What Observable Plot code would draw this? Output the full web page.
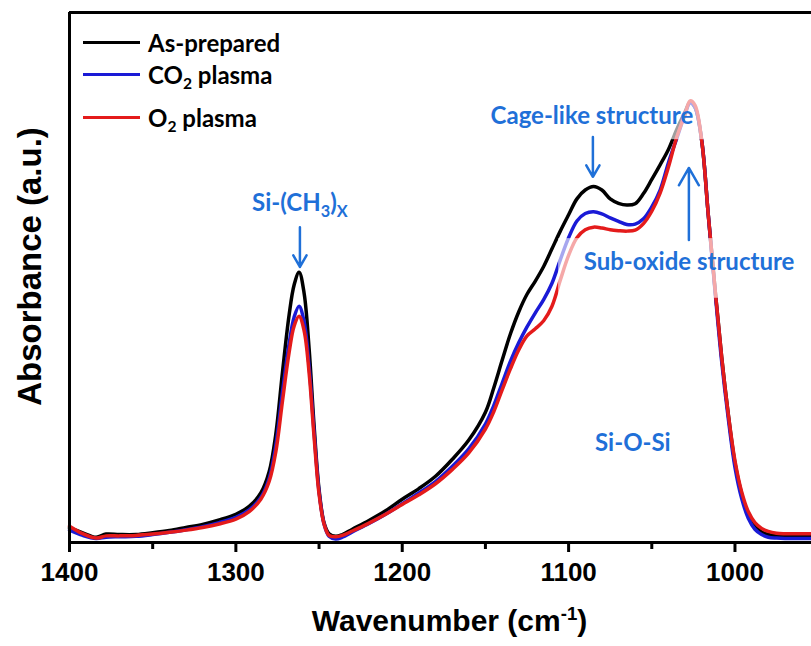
<!DOCTYPE html>
<html><head><meta charset="utf-8">
<script src="https://cdn.jsdelivr.net/npm/d3@7"></script>
<script src="https://cdn.jsdelivr.net/npm/@observablehq/plot@0.6"></script>
<style>
body{margin:0;background:#fff;}
#wrap{position:relative;width:811px;height:646px;}
#legend{position:absolute;left:83px;top:0;font-family:Lato,"Open Sans",sans-serif;font-weight:700;font-size:24px;color:#000;}
.row{position:absolute;left:0;height:30px;display:flex;align-items:center;white-space:nowrap;}
.sw{width:57px;height:3px;margin-right:8px;}
.row sub{font-size:65%;vertical-align:-0.3em;line-height:0;}
</style></head><body><div id="wrap"><div id="legend"></div></div>
<script>
// ---- data ----
const wavenumber = [1400,1392,1384,1378,1370,1360,1350,1340,1330,1320,1310,1300,1292,1285,1280,1276,1272,1268,1265,1262,1259,1256,1253,1250,1247,1244,1240,1236,1230,1220,1210,1200,1190,1180,1170,1160,1150,1145,1140,1135,1130,1125,1120,1115,1110,1105,1100,1095,1090,1085,1080,1075,1070,1065,1060,1055,1050,1045,1040,1035,1030,1027,1024,1020,1016,1012,1008,1004,1000,996,992,988,984,980,975,970,960,954];
const asPrepared = [.033,.022,.012,.019,.018, .018,.022,.027,.034,.041, .051,.064,.082,.112,.16, .245,.385,.515,.583,.612, .565,.44,.265,.12,.045, .02,.014,.018,.03,.05, .072,.098,.122,.15,.188, .232,.295,.35,.412,.472, .522,.562,.592,.625,.665, .705,.742,.778,.798,.806, .798,.778,.768,.764,.767, .79,.822,.855,.89,.935, .975,.997,.985,.91,.74, .575,.42,.29,.18,.11, .062,.037,.024,.018,.015, .014,.014,.014];
const co2Plasma = [.028,.016,.009,.012,.013, .014,.018,.023,.029,.036, .045,.057,.074,.102,.145, .22,.34,.45,.51,.535, .5,.4,.25,.115,.042, .014,.008,.012,.024,.043, .064,.088,.112,.138,.172, .212,.268,.31,.36,.41, .452,.488,.52,.55,.587, .64,.69,.728,.745,.749, .744,.735,.727,.72,.721, .733,.76,.798,.86,.915, .97,.995,.985,.91,.74, .57,.41,.28,.17,.1, .055,.03,.018,.012,.01, .009,.009,.009];
const o2Plasma = [.037,.02,.01,.015,.015, .016,.019,.023,.028,.034, .042,.053,.07,.098,.138, .205,.32,.43,.49,.512, .48,.385,.24,.11,.042, .016,.013,.016,.026,.044, .064,.086,.108,.133,.165, .203,.257,.296,.345,.393, .436,.468,.484,.502,.535, .594,.65,.69,.708,.714, .712,.708,.706,.705,.707, .722,.75,.791,.85,.918, .97,1.0,.99,.91,.74, .575,.42,.29,.185,.115, .07,.045,.032,.025,.021, .02,.02,.02];
const seriesNames = ["As-prepared","CO_{2} plasma","O_{2} plasma"];
const seriesColors = ["#000000","#1a1ad6","#e41b1b"];
const majorTicks = [1400,1300,1200,1100,1000];
const minorTicks = [1350,1250,1150,1050];
const xTitle = "Wavenumber (cm^{-1})";
const yTitle = "Absorbance (a.u.)";
// annotations
const annoText = ["Si-(CH_{3})_{X}","Cage-like structure","Sub-oxide structure","Si-O-Si"];
const annoX = [1261.5,1086,1027.6,1061.4];
const annoY = [0.769,0.966,0.635,0.224];
const arrowX = [1261.5,1085.4,1027.7];
const arrowFrom = [0.714,0.918,0.685];
const arrowTo = [0.624,0.828,0.848];
const boxX1 = [1150,1106], boxX2 = [1016,962], boxY1 = [0.912,0.553], boxY2 = [1.01,0.688];

const annoBlue = "#1f70d8";
const seriesValues = [asPrepared, co2Plasma, o2Plasma];
const rows = [];
seriesNames.forEach((s,k)=>wavenumber.forEach((w,i)=>rows.push({series:s, wn:w, a:seriesValues[k][i]})));
const annos = annoText.map((t,i)=>({t, x:annoX[i], y:annoY[i]}));
const arrows = arrowX.map((x,i)=>({x, y1:arrowFrom[i], y2:arrowTo[i]}));
const boxes = boxX1.map((x,i)=>({x1:x, x2:boxX2[i], y1:boxY1[i], y2:boxY2[i]}));

const chart = Plot.plot({
  width: 811, height: 646,
  marginLeft: 69, marginRight: 0, marginTop: 12, marginBottom: 104,
  style: {fontFamily: "'Liberation Sans', Arial, sans-serif", background: "#fff", color: "#000"},
  x: {domain: [1400, 954]},
  y: {domain: [0, 1.2], axis: null},
  color: {domain: seriesNames, range: seriesColors},
  marks: [
    Plot.line(rows, {x:"wn", y:"a", z:"series", stroke:"series", strokeWidth:3.5, curve:"catmull-rom"}),
    Plot.rect(boxes, {x1:"x1", x2:"x2", y1:"y1", y2:"y2", fill:"#fff", fillOpacity:0.62}),
    Plot.arrow(arrows, {x1:"x", x2:"x", y1:"y1", y2:"y2", stroke:annoBlue, strokeWidth:2.5, headLength:12, headAngle:60}),
    Plot.text(annos, {x:"x", y:"y", text:"t", fill:annoBlue, fontFamily:"Lato, 'Open Sans', sans-serif", fontWeight:"bold", fontSize:24, lineAnchor:"middle"}),
    Plot.ruleY([0, 1.2], {strokeWidth:3}),
    Plot.ruleX([1400], {strokeWidth:3}),
    Plot.axisX(majorTicks, {tickSize:10, tickPadding:10, strokeWidth:3, fontSize:26, fontWeight:"bold", tickFormat:d=>String(d), label:null}),
    Plot.axisX(minorTicks, {tickSize:7, strokeWidth:3, tickFormat:()=>"", label:null}),
    Plot.text([xTitle], {text:d=>d, frameAnchor:"bottom", textAnchor:"middle", dx:9, dy:79, fontSize:30, fontWeight:"bold", lineAnchor:"middle"}),
    Plot.text([yTitle], {text:d=>d, frameAnchor:"left", textAnchor:"middle", rotate:-90, dx:-39, dy:-11, fontSize:33, fontWeight:"bold", lineAnchor:"middle"})
  ]
});
document.getElementById("wrap").prepend(chart);

// rich text: _{..} subscript, ^{..} superscript
function richify(el){
  const t = el.textContent;
  if(!/[_^]\{/.test(t)) return;
  const fs = parseFloat(getComputedStyle(el).fontSize) || 20;
  const parts = t.split(/([_^]\{[^}]*\})/).filter(p=>p.length);
  el.textContent = "";
  let shift = 0;
  const ns = "http://www.w3.org/2000/svg";
  for(const p of parts){
    const ts = document.createElementNS(ns,"tspan");
    let target = 0, txt = p;
    if(p.startsWith("_{")){ target = fs*0.28; txt = p.slice(2,-1); ts.setAttribute("font-size", fs*0.68); }
    else if(p.startsWith("^{")){ target = -fs*0.38; txt = p.slice(2,-1); ts.setAttribute("font-size", fs*0.62); }
    ts.setAttribute("dy", target - shift);
    shift = target;
    ts.textContent = txt;
    el.appendChild(ts);
  }
}
chart.querySelectorAll("text").forEach(richify);

// legend
const leg = document.getElementById("legend");
const rowCenters = [42, 74, 117];
seriesNames.forEach((s,i)=>{
  const r = document.createElement("div");
  r.className = "row";
  r.style.top = (rowCenters[i]-15)+"px";
  const sw = document.createElement("div");
  sw.className = "sw"; sw.style.background = seriesColors[i];
  const lab = document.createElement("span");
  lab.innerHTML = s.replace(/_\{([^}]*)\}/g, "<sub>$1</sub>");
  r.appendChild(sw); r.appendChild(lab);
  leg.appendChild(r);
});
</script></body></html>
